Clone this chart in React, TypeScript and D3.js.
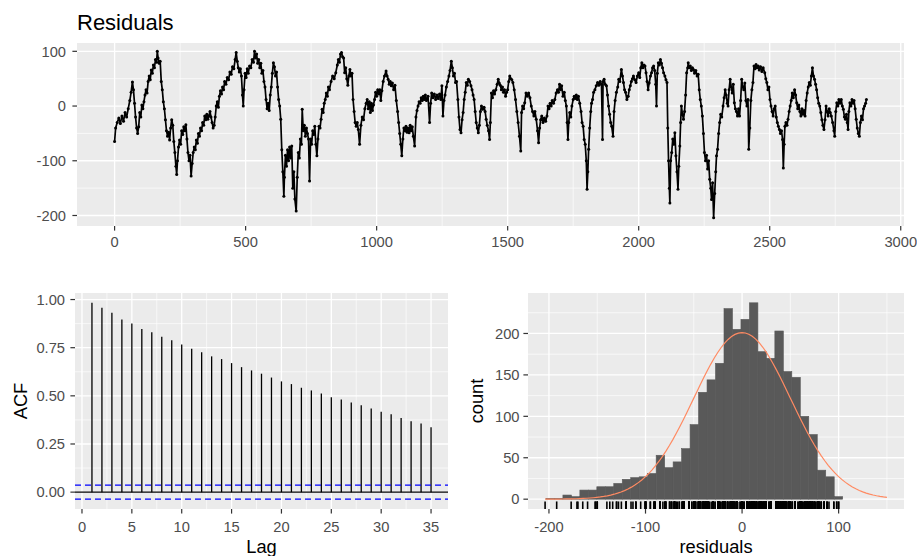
import React from "react";
import * as d3 from "d3";

// ---------- DATA ----------
// residual series: [time index, residual]
const residualSeries: [number, number][] = [
  [0,-65],[4,-40],[10,-30],[16,-22],[22,-32],[28,-18],[34,-28],[40,-12],[46,-20],[52,-5],[58,10],[63,25],[68,44],[72,30],[76,5],[80,-20],[84,-40],[88,-50],[92,-38],[96,-12],[100,-20],[104,2],[108,-5],[112,8],[116,20],[120,30],[124,24],[128,45],[132,55],[136,48],[140,66],[144,60],[148,75],[152,70],[156,85],[160,80],[163,100],[166,88],[170,78],[174,82],[178,45],[182,30],[186,8],[190,-5],[194,-25],[198,-45],[202,-55],[206,-48],[210,-62],[214,-40],[218,-25],[222,-35],[226,-65],[230,-85],[234,-110],[237,-125],[240,-100],[244,-75],[248,-62],[252,-70],[256,-45],[260,-52],[264,-38],[268,-45],[272,-34],[276,-60],[280,-85],[284,-100],[288,-90],[292,-128],[296,-105],[300,-85],[304,-75],[308,-80],[312,-62],[316,-68],[320,-50],[324,-55],[328,-40],[332,-45],[336,-30],[340,-35],[344,-18],[348,-25],[352,-15],[356,-24],[360,-18],[364,-10],[368,-20],[372,-30],[376,-40],[380,-35],[384,-20],[388,0],[392,8],[396,-2],[400,18],[404,28],[408,22],[412,35],[416,30],[420,45],[425,40],[430,52],[435,48],[440,62],[445,58],[450,72],[455,68],[460,85],[464,98],[468,82],[472,70],[476,62],[480,68],[484,55],[488,20],[491,0],[494,30],[498,60],[502,52],[506,68],[510,60],[515,73],[520,70],[525,85],[530,80],[534,100],[538,88],[542,95],[546,78],[550,85],[554,70],[558,78],[562,60],[566,65],[570,45],[574,35],[578,12],[582,-5],[586,5],[590,-8],[594,20],[598,35],[602,60],[606,79],[610,72],[614,55],[618,62],[622,35],[626,12],[630,0],[634,-24],[638,-80],[642,-120],[646,-165],[648,-130],[652,-90],[656,-110],[660,-80],[664,-100],[668,-75],[672,-95],[676,-73],[680,-150],[684,-120],[688,-170],[693,-192],[697,-130],[701,-85],[705,-95],[709,-60],[713,-70],[716,-6],[720,-45],[724,-35],[728,-55],[732,-40],[736,-50],[740,-60],[744,-137],[748,-60],[752,-70],[756,-45],[760,-52],[764,-37],[768,-70],[772,-91],[776,-60],[780,-37],[784,-40],[788,-24],[792,-6],[796,-12],[800,5],[804,12],[808,24],[812,18],[816,35],[820,30],[826,45],[832,55],[838,50],[844,61],[850,75],[854,85],[858,80],[862,95],[866,98],[870,90],[874,88],[878,61],[882,70],[886,50],[890,38],[894,55],[898,67],[902,55],[906,60],[910,12],[914,-10],[918,-30],[922,-37],[926,-30],[930,-43],[935,-70],[940,-35],[945,-20],[950,-25],[955,-5],[960,5],[964,12],[968,-5],[972,8],[976,-12],[980,5],[984,-8],[988,2],[992,12],[996,25],[1000,18],[1004,30],[1008,22],[1012,30],[1016,10],[1020,28],[1025,45],[1030,55],[1036,64],[1040,55],[1044,49],[1048,40],[1052,45],[1056,37],[1060,42],[1065,30],[1070,38],[1075,10],[1080,-10],[1084,-30],[1088,-50],[1092,-70],[1096,-91],[1100,-60],[1104,-40],[1108,-45],[1112,-37],[1116,-48],[1120,-40],[1124,-49],[1128,-35],[1132,-45],[1136,-38],[1140,-55],[1145,-73],[1150,-20],[1154,-8],[1158,0],[1162,8],[1166,5],[1170,15],[1174,10],[1178,18],[1182,12],[1186,20],[1190,10],[1196,18],[1202,-30],[1206,5],[1210,24],[1215,15],[1220,22],[1225,12],[1230,20],[1235,14],[1240,22],[1245,12],[1249,37],[1253,-18],[1257,10],[1261,20],[1266,35],[1271,45],[1276,55],[1280,65],[1285,82],[1289,70],[1293,55],[1297,60],[1301,43],[1305,45],[1310,12],[1314,-20],[1318,-43],[1322,-49],[1326,-25],[1330,-12],[1334,12],[1338,25],[1342,43],[1346,38],[1350,49],[1355,45],[1360,37],[1364,30],[1368,20],[1372,12],[1376,-10],[1380,-30],[1384,-40],[1388,-49],[1392,-35],[1396,-10],[1400,0],[1405,-6],[1410,-2],[1414,-10],[1418,-24],[1422,-35],[1427,-45],[1431,-61],[1434,-30],[1438,24],[1442,15],[1446,28],[1450,22],[1455,30],[1460,40],[1464,49],[1468,42],[1472,38],[1476,30],[1480,35],[1484,25],[1488,30],[1492,18],[1496,25],[1500,30],[1504,45],[1508,55],[1512,50],[1516,48],[1520,43],[1525,30],[1530,12],[1535,-10],[1540,-30],[1545,-55],[1550,-82],[1553,-12],[1557,0],[1561,-5],[1565,6],[1570,24],[1575,18],[1580,24],[1585,15],[1590,0],[1595,-10],[1600,-18],[1604,-10],[1609,-24],[1614,-45],[1618,-67],[1622,-40],[1626,-25],[1630,-18],[1635,-30],[1640,-22],[1645,-28],[1650,-18],[1654,0],[1658,-5],[1662,5],[1666,0],[1670,10],[1675,5],[1680,12],[1685,24],[1690,30],[1694,25],[1698,40],[1702,30],[1706,37],[1711,18],[1716,25],[1720,10],[1724,0],[1727,-30],[1730,-61],[1733,-30],[1737,-12],[1741,-20],[1745,0],[1750,12],[1754,18],[1758,14],[1762,20],[1766,12],[1770,18],[1775,5],[1780,-10],[1784,-30],[1788,-37],[1792,-61],[1796,-70],[1800,-100],[1803,-152],[1806,-120],[1809,-79],[1813,-40],[1817,-10],[1820,5],[1824,12],[1828,25],[1833,30],[1838,37],[1843,43],[1848,38],[1853,45],[1858,40],[1862,-61],[1864,45],[1868,49],[1872,40],[1877,37],[1881,20],[1885,0],[1889,-15],[1893,-30],[1897,-37],[1902,-55],[1906,-10],[1910,10],[1915,25],[1920,35],[1924,49],[1928,45],[1934,67],[1938,55],[1942,43],[1946,30],[1950,25],[1955,12],[1960,18],[1964,30],[1968,37],[1972,45],[1976,50],[1980,55],[1985,48],[1990,43],[1995,55],[2000,61],[2004,52],[2008,70],[2012,79],[2016,70],[2020,75],[2024,73],[2028,61],[2032,45],[2036,30],[2040,42],[2045,55],[2049,61],[2053,70],[2057,73],[2061,65],[2065,40],[2068,0],[2071,60],[2075,79],[2079,75],[2083,85],[2087,78],[2091,70],[2095,61],[2100,55],[2104,48],[2108,43],[2111,-40],[2114,-100],[2117,-150],[2119,-177],[2122,-100],[2126,-85],[2130,-60],[2134,-70],[2138,-49],[2142,-91],[2146,-120],[2150,-152],[2153,-110],[2157,-73],[2160,-30],[2163,0],[2167,-15],[2171,-24],[2175,-10],[2179,20],[2183,61],[2187,70],[2189,79],[2193,70],[2197,73],[2201,65],[2205,70],[2209,67],[2213,60],[2218,65],[2223,55],[2227,58],[2231,30],[2235,12],[2239,0],[2243,-18],[2247,-50],[2251,-85],[2255,-100],[2259,-90],[2263,-115],[2267,-100],[2271,-134],[2275,-150],[2278,-171],[2282,-140],[2286,-204],[2290,-160],[2294,-120],[2297,-91],[2301,-79],[2305,-50],[2309,-30],[2313,-15],[2317,-20],[2322,0],[2326,15],[2330,30],[2334,20],[2338,5],[2341,0],[2345,30],[2349,49],[2353,35],[2357,24],[2361,40],[2365,6],[2369,-5],[2373,-10],[2377,-18],[2381,-5],[2385,-18],[2389,10],[2393,49],[2397,35],[2401,30],[2405,42],[2409,10],[2413,0],[2417,12],[2420,-79],[2424,-40],[2428,10],[2432,30],[2436,43],[2440,73],[2444,68],[2448,76],[2452,70],[2456,73],[2460,66],[2465,72],[2470,63],[2475,70],[2481,61],[2485,50],[2489,43],[2493,30],[2497,35],[2501,12],[2505,0],[2509,-10],[2513,-18],[2517,-5],[2521,0],[2525,-20],[2529,-30],[2533,-37],[2537,-43],[2541,-50],[2545,-45],[2549,-61],[2552,-113],[2555,-70],[2558,-37],[2562,-30],[2566,-35],[2570,-24],[2574,-10],[2578,0],[2582,10],[2586,24],[2590,15],[2595,30],[2599,20],[2603,6],[2607,-5],[2611,2],[2615,-10],[2619,-18],[2623,-5],[2627,-15],[2631,-8],[2635,-18],[2639,10],[2643,24],[2647,35],[2651,43],[2655,38],[2659,55],[2663,70],[2667,55],[2671,49],[2675,40],[2679,30],[2683,15],[2687,5],[2691,0],[2695,-12],[2699,-25],[2703,-35],[2707,-43],[2711,-25],[2715,0],[2719,-10],[2723,-18],[2727,-5],[2731,-12],[2735,-18],[2740,-30],[2745,-45],[2748,-55],[2752,-10],[2756,6],[2760,0],[2764,12],[2768,5],[2773,12],[2777,0],[2781,-6],[2785,-20],[2789,-24],[2793,-15],[2796,-30],[2799,-43],[2802,-10],[2806,6],[2810,0],[2814,12],[2818,5],[2822,10],[2826,-5],[2830,-24],[2834,-40],[2838,-50],[2842,-55],[2846,-30],[2850,-18],[2854,-25],[2858,-5],[2862,0],[2866,5],[2869,12]
];

const acfLags = [1,2,3,4,5,6,7,8,9,10,11,12,13,14,15,16,17,18,19,20,21,22,23,24,25,26,27,28,29,30,31,32,33,34,35];
const acfValues = [0.983,0.957,0.931,0.896,0.875,0.847,0.830,0.807,0.788,0.766,0.745,0.726,0.705,0.691,0.670,0.649,0.632,0.615,0.595,0.575,0.561,0.542,0.528,0.512,0.493,0.481,0.465,0.451,0.434,0.417,0.405,0.385,0.368,0.356,0.337];

const nObs = 2870;
const histBinStart = -203.1;
const histBinWidth = 8.78;
const histCounts = [1,1,5,3,11,11,15,15,19,24,26,27,31,53,38,45,61,90,129,144,164,230,205,217,237,178,170,203,154,147,100,78,35,27,3];
const normMean = 0;
const normSd = 50;

const topXTicks = [0,500,1000,1500,2000,2500,3000];
const topXMinor = [250,750,1250,1750,2250,2750];
const topYTicks = [-200,-100,0,100];
const topYMinor = [-150,-50,50];
const acfXTicks = [0,5,10,15,20,25,30,35];
const acfXMinor = [2.5,7.5,12.5,17.5,22.5,27.5,32.5];
const acfYTicks = [0,0.25,0.5,0.75,1];
const acfYMinor = [0.125,0.375,0.625,0.875];
const histXTicks = [-200,-100,0,100];
const histXMinor = [-150,-50,50,150];
const histYTicks = [0,50,100,150,200];
const histYMinor = [25,75,125,175,225];

// ---------- STYLE ----------
const FONT = "'Liberation Sans', Arial, Helvetica, sans-serif";
const TICK_COLOR = "#333333";
const LABEL_COLOR = "#4D4D4D";
const PANEL_BG = "#EBEBEB";
const TICK_LEN = 4.6;

type Box = { l: number; r: number; t: number; b: number };
type Scale = d3.ScaleLinear<number, number>;

function expand(ext: [number, number], m = 0.05): [number, number] {
  const r = ext[1] - ext[0];
  return [ext[0] - r * m, ext[1] + r * m];
}

function PanelGrid(props: { box: Box; x: Scale; y: Scale; xMajor: number[]; xMinor: number[]; yMajor: number[]; yMinor: number[] }) {
  const { box, x, y, xMajor, xMinor, yMajor, yMinor } = props;
  return (
    <g>
      <rect x={box.l} y={box.t} width={box.r - box.l} height={box.b - box.t} fill={PANEL_BG} />
      {yMinor.map((v) => (
        <line key={"ym" + v} x1={box.l} x2={box.r} y1={y(v)} y2={y(v)} stroke="#fff" strokeWidth={0.65} />
      ))}
      {xMinor.map((v) => (
        <line key={"xm" + v} x1={x(v)} x2={x(v)} y1={box.t} y2={box.b} stroke="#fff" strokeWidth={0.65} />
      ))}
      {yMajor.map((v) => (
        <line key={"yM" + v} x1={box.l} x2={box.r} y1={y(v)} y2={y(v)} stroke="#fff" strokeWidth={1.3} />
      ))}
      {xMajor.map((v) => (
        <line key={"xM" + v} x1={x(v)} x2={x(v)} y1={box.t} y2={box.b} stroke="#fff" strokeWidth={1.3} />
      ))}
    </g>
  );
}

function Axes(props: {
  box: Box; x: Scale; y: Scale; xTicks: number[]; yTicks: number[];
  xFmt: (v: number) => string; yFmt: (v: number) => string; yGap: number; xBase: number;
}) {
  const { box, x, y, xTicks, yTicks, xFmt, yFmt, yGap, xBase } = props;
  return (
    <g fontFamily={FONT} fontSize={14.7} fill={LABEL_COLOR}>
      {xTicks.map((v) => (
        <g key={"xt" + v}>
          <line x1={x(v)} x2={x(v)} y1={box.b} y2={box.b + TICK_LEN} stroke={TICK_COLOR} strokeWidth={1.2} />
          <text x={x(v)} y={xBase} textAnchor="middle">{xFmt(v)}</text>
        </g>
      ))}
      {yTicks.map((v) => (
        <g key={"yt" + v}>
          <line x1={box.l - TICK_LEN} x2={box.l} y1={y(v)} y2={y(v)} stroke={TICK_COLOR} strokeWidth={1.2} />
          <text x={box.l - yGap} y={y(v)} dy="0.36em" textAnchor="end">{yFmt(v)}</text>
        </g>
      ))}
    </g>
  );
}

export default function App() {
  // ---------- top panel: residual time series ----------
  const TOP: Box = { l: 77, r: 904, t: 43, b: 226 };
  const tExt = d3.extent(residualSeries, (d) => d[0]) as [number, number];
  const vExt = d3.extent(residualSeries, (d) => d[1]) as [number, number];
  const xTop = d3.scaleLinear().domain(expand(tExt)).range([TOP.l, TOP.r]);
  const yTop = d3.scaleLinear().domain(expand(vExt)).range([TOP.b, TOP.t]);
  const linePath = d3.line<[number, number]>().x((d) => xTop(d[0])).y((d) => yTop(d[1]))(residualSeries) || "";

  // ---------- ACF panel ----------
  const ACF: Box = { l: 75, r: 448, t: 293, b: 509 };
  const ci = 1.96 / Math.sqrt(nObs);
  const xAcf = d3.scaleLinear().domain(expand([d3.min(acfLags)!, d3.max(acfLags)!])).range([ACF.l, ACF.r]);
  const yAcf = d3
    .scaleLinear()
    .domain(expand([Math.min(-ci, d3.min(acfValues)!), d3.max(acfValues)!]))
    .range([ACF.b, ACF.t]);

  // ---------- histogram panel ----------
  const HIST: Box = { l: 528, r: 904, t: 293, b: 509 };
  const bins = histCounts.map((c, i) => ({
    x0: histBinStart + i * histBinWidth,
    x1: histBinStart + (i + 1) * histBinWidth,
    c,
  }));
  const curveMin = Math.min(d3.min(residualSeries, (d) => d[1])!, normMean - 3 * normSd);
  const curveMax = Math.max(d3.max(residualSeries, (d) => d[1])!, normMean + 3 * normSd);
  const curvePts: [number, number][] = d3.range(100).map((i) => {
    const xv = curveMin + (i * (curveMax - curveMin)) / 99;
    const dens = Math.exp(-((xv - normMean) ** 2) / (2 * normSd * normSd)) / (normSd * Math.sqrt(2 * Math.PI));
    return [xv, dens * nObs * histBinWidth];
  });
  const histXExt: [number, number] = [
    Math.min(bins[0].x0, curveMin),
    Math.max(bins[bins.length - 1].x1, curveMax),
  ];
  const xHist = d3.scaleLinear().domain(expand(histXExt)).range([HIST.l, HIST.r]);
  const yHist = d3.scaleLinear().domain(expand([0, d3.max(histCounts)!])).range([HIST.b, HIST.t]);
  const curvePath = d3.line<[number, number]>().x((d) => xHist(d[0])).y((d) => yHist(d[1]))(curvePts) || "";
  const rugLen = 0.035 * (HIST.b - HIST.t);

  const fmtInt = (v: number) => String(v);
  const fmt2 = (v: number) => v.toFixed(2);

  return (
    <>
      <style>{"body{margin:0;}"}</style>
      <svg width={917} height={556} style={{ display: "block", background: "#fff" }}>
        {/* title */}
        <text x={77} y={30} fontFamily={FONT} fontSize={22} fill="#000">Residuals</text>

        {/* top panel */}
        <PanelGrid box={TOP} x={xTop} y={yTop} xMajor={topXTicks} xMinor={topXMinor} yMajor={topYTicks} yMinor={topYMinor} />
        <path d={linePath} fill="none" stroke="#000" strokeWidth={1.7} strokeLinejoin="round" />
        <g fill="#000">
          {residualSeries.map((d, i) => (
            <circle key={i} cx={xTop(d[0])} cy={yTop(d[1])} r={1.5} />
          ))}
        </g>
        <Axes box={TOP} x={xTop} y={yTop} xTicks={topXTicks} yTicks={topYTicks} xFmt={fmtInt} yFmt={fmtInt} yGap={11} xBase={247} />

        {/* ACF panel */}
        <PanelGrid box={ACF} x={xAcf} y={yAcf} xMajor={acfXTicks} xMinor={acfXMinor} yMajor={acfYTicks} yMinor={acfYMinor} />
        <line x1={ACF.l} x2={ACF.r} y1={yAcf(0)} y2={yAcf(0)} stroke="#000" strokeWidth={1.3} />
        {acfLags.map((lag, i) => (
          <line key={lag} x1={xAcf(lag)} x2={xAcf(lag)} y1={yAcf(0)} y2={yAcf(acfValues[i])} stroke="#000" strokeWidth={1.3} />
        ))}
        {[ci, -ci].map((c) => (
          <line key={c} x1={ACF.l} x2={ACF.r} y1={yAcf(c)} y2={yAcf(c)} stroke="#0000FF" strokeWidth={1.3} strokeDasharray="6,4" />
        ))}
        <Axes box={ACF} x={xAcf} y={yAcf} xTicks={acfXTicks} yTicks={acfYTicks} xFmt={fmtInt} yFmt={fmt2} yGap={10} xBase={532} />
        <text
          transform={`translate(27,${(ACF.t + ACF.b) / 2}) rotate(-90)`}
          textAnchor="middle"
          fontFamily={FONT}
          fontSize={18.3}
          fill="#000"
        >
          ACF
        </text>
        <text x={(ACF.l + ACF.r) / 2} y={553} textAnchor="middle" fontFamily={FONT} fontSize={18.3} fill="#000">Lag</text>

        {/* histogram panel */}
        <PanelGrid box={HIST} x={xHist} y={yHist} xMajor={histXTicks} xMinor={histXMinor} yMajor={histYTicks} yMinor={histYMinor} />
        <g fill="#595959" stroke="#595959" strokeWidth={0.6}>
          {bins.filter((b) => b.c > 0).map((b, i) => (
            <rect
              key={i}
              x={xHist(b.x0)}
              y={yHist(b.c)}
              width={xHist(b.x1) - xHist(b.x0)}
              height={yHist(0) - yHist(b.c)}
            />
          ))}
        </g>
        <path d={curvePath} fill="none" stroke="#FF8A62" strokeWidth={1.2} />
        <g stroke="#000" strokeWidth={1.6}>
          {residualSeries.map((d, i) => (
            <line key={i} x1={xHist(d[1])} x2={xHist(d[1])} y1={HIST.b} y2={HIST.b - rugLen} />
          ))}
        </g>
        <Axes box={HIST} x={xHist} y={yHist} xTicks={histXTicks} yTicks={histYTicks} xFmt={fmtInt} yFmt={fmtInt} yGap={8.5} xBase={532} />
        <text
          transform={`translate(483,${(HIST.t + HIST.b) / 2}) rotate(-90)`}
          textAnchor="middle"
          fontFamily={FONT}
          fontSize={18.3}
          fill="#000"
        >
          count
        </text>
        <text x={(HIST.l + HIST.r) / 2} y={553} textAnchor="middle" fontFamily={FONT} fontSize={18.3} fill="#000">residuals</text>
      </svg>
    </>
  );
}
